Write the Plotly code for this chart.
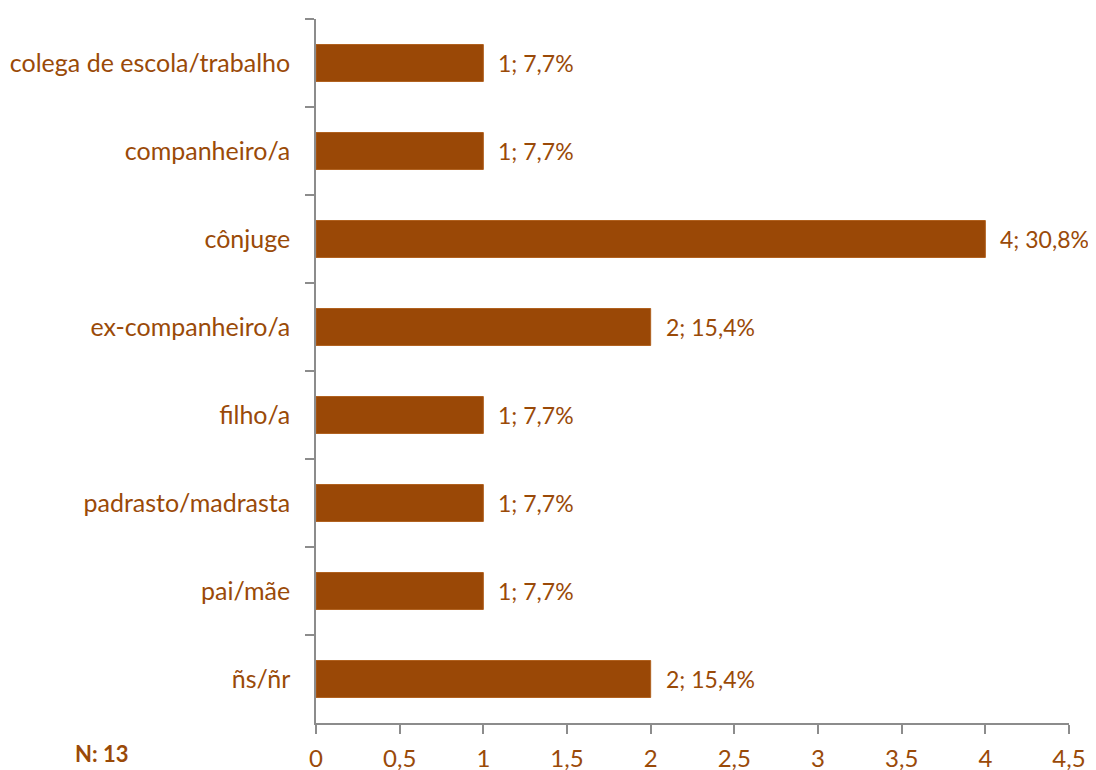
import plotly.graph_objects as go

categories = ["colega de escola/trabalho", "companheiro/a", "cônjuge", "ex-companheiro/a",
              "filho/a", "padrasto/madrasta", "pai/mãe", "ñs/ñr"]
counts = [1, 1, 4, 2, 1, 1, 1, 2]
percent_labels = ["7,7%", "7,7%", "30,8%", "15,4%", "7,7%", "7,7%", "7,7%", "15,4%"]
x_ticks = [0, 0.5, 1, 1.5, 2, 2.5, 3, 3.5, 4, 4.5]
x_tick_labels = ["0", "0,5", "1", "1,5", "2", "2,5", "3", "3,5", "4", "4,5"]
n_total = 13

BAR = "#9a4806"
TXT = "#9a4a08"
AX = "#8c8c8c"
FONT = "Lato"
FS = 24

OFF = 7  # page offset of the plot div
W, H = 1096, 770 - OFF
L, T = 315 - OFF, 18 - OFF
R = W - (1068 - OFF)
B = H - (722 - OFF)

fig = go.Figure()
fig.add_trace(go.Bar(
    y=categories, x=counts, orientation="h",
    marker=dict(color=BAR, line=dict(color="#b0601e", width=1)),
    width=0.42, hoverinfo="skip",
))

for c, v, p in zip(categories, counts, percent_labels):
    fig.add_annotation(x=v, y=c, xref="x", yref="y", text=f"{v}; {p}",
                       showarrow=False, xanchor="left", xshift=13,
                       font=dict(family=FONT, size=23, color=TXT))

fig.add_annotation(xref="paper", yref="paper",
                   x=(72 - 315) / (W - L - R), y=-(752 - 722) / (H - B - T),
                   text=f"<b>N: {n_total}</b>", showarrow=False,
                   xanchor="left", yanchor="middle",
                   font=dict(family=FONT, size=22, color=TXT))

fig.update_layout(
    width=W, height=H,
    margin=dict(l=L, r=R, t=T, b=B, autoexpand=False),
    paper_bgcolor="white", plot_bgcolor="white",
    separators=",.",
    showlegend=False,
    font=dict(family=FONT, color=TXT),
)
fig.update_xaxes(
    range=[0, 4.5], tickvals=x_ticks, ticktext=x_tick_labels,
    showgrid=False, zeroline=False, showline=True, linecolor=AX, linewidth=1.5,
    ticks="outside", ticklen=9, tickcolor=AX, tickwidth=1.5,
    tickfont=dict(family=FONT, size=FS, color=TXT), ticklabelstandoff=4,
    automargin=False,
)
fig.update_yaxes(
    categoryorder="array", categoryarray=categories, autorange="reversed",
    showgrid=False, zeroline=False, showline=True, linecolor=AX, linewidth=1.5,
    ticks="outside", ticklen=9, tickcolor=AX, tickwidth=1.5, tickson="boundaries",
    tickfont=dict(family=FONT, size=25, color=TXT), ticklabelstandoff=19,
    automargin=False,
)

fig.write_html("out.html")
